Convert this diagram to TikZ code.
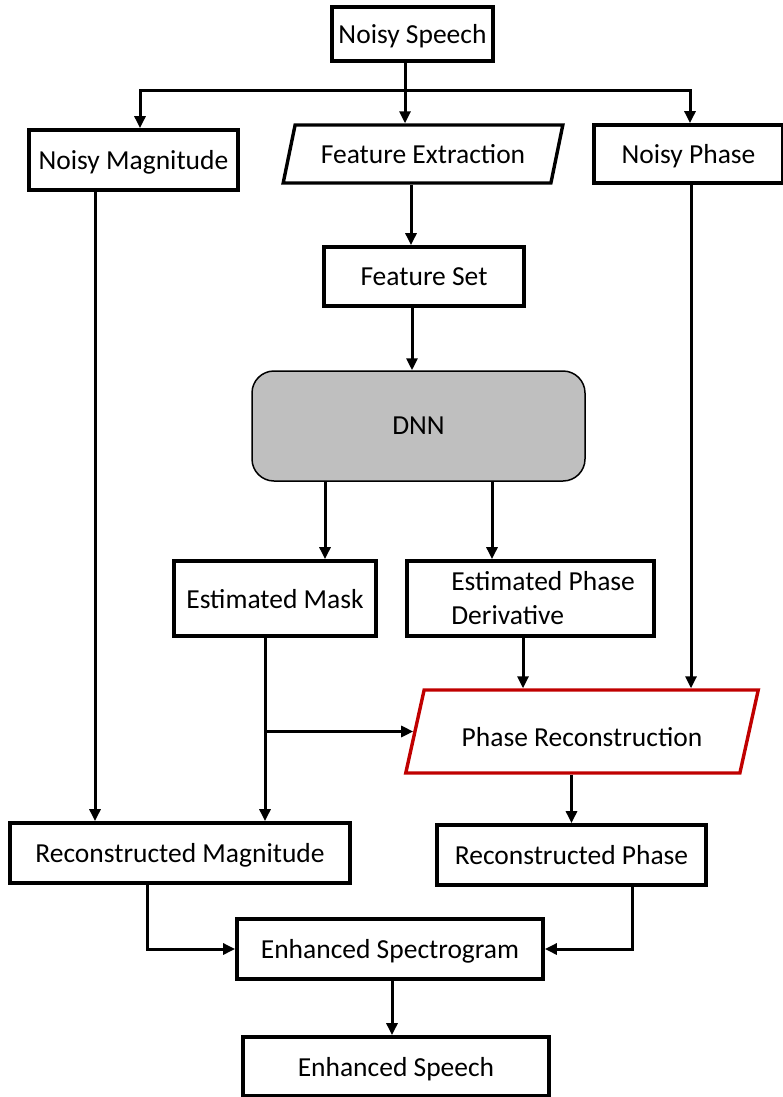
\documentclass[tikz,border=0pt]{standalone}
\usepackage{fontspec}
\setmainfont{Carlito}
\usetikzlibrary{arrows.meta,shapes.geometric}
\definecolor{dnngray}{RGB}{191,191,191}
\definecolor{prred}{RGB}{192,0,0}
\begin{document}
\begin{tikzpicture}[x=1pt,y=-1pt,
  every node/.style={font=\fontsize{27.5}{34}\selectfont},
  box/.style={draw, line width=3.8pt, rectangle, inner sep=0pt, align=center, text depth=0pt},
  para/.style={draw, line width=3.4pt, trapezium, trapezium stretches=true, inner sep=0pt, text depth=0pt},
  wire/.style={line width=3pt},
  arr/.style={line width=3pt, -{Triangle[length=12pt,width=11pt]}}]
\useasboundingbox (0,0) rectangle (783,1097);

% processing blocks
\node[box, minimum width=161, minimum height=54] (ns) at (412.5,34) {Noisy Speech};
\node[box, minimum width=209, minimum height=60] (nm) at (133.5,160) {Noisy Magnitude};
\node[para, minimum width=280, minimum height=58,
      trapezium left angle=63.4, trapezium right angle=116.6] (fe) at (423,154) {Feature Extraction};
\node[box, minimum width=189, minimum height=58] (np) at (688.5,154) {Noisy Phase};
\node[box, minimum width=200, minimum height=59] (fs) at (424,276.5) {Feature Set};
\node[draw, line width=1.5pt, fill=dnngray, rounded corners=22pt, inner sep=0pt, text depth=0pt,
      minimum width=333, minimum height=110] (dnn) at (418.5,426) {DNN};
\node[box, minimum width=202, minimum height=75] (em) at (275,598.5) {Estimated Mask};
\node[box, minimum width=247, minimum height=75] (epd) at (530.5,598.5) {};
\node[align=left, anchor=west, inner sep=0pt] (epdtext) at ([xshift=46pt]epd.west) {Estimated Phase\\Derivative};
\node[para, draw=prred, minimum width=354, minimum height=83, text height=30pt,
      trapezium left angle=65, trapezium right angle=115] (pr) at (582,731.5) {Phase Reconstruction};
\node[box, minimum width=340, minimum height=60] (rm) at (180,853) {Reconstructed Magnitude};
\node[box, minimum width=269, minimum height=60] (rp) at (571.5,855) {Reconstructed Phase};
\node[box, minimum width=306, minimum height=60] (es) at (390,949) {Enhanced Spectrogram};
\node[box, minimum width=306, minimum height=59] (esp) at (396,1066.5) {Enhanced Speech};

% split of the noisy input into three branches
\coordinate (split) at (405,91);
\draw[wire] ([xshift=-7.5pt]ns.south) -- (split);
\draw[arr] (split) -| ([xshift=6.5pt]nm.north);
\draw[arr] (split) -- (split |- fe.north);
\draw[arr] (split) -| ([xshift=1.5pt]np.north);

% feature path through the network
\draw[arr] ([xshift=-13pt]fs.north |- fe.south) -- ([xshift=-13pt]fs.north);
\draw[arr] ([xshift=-12pt]fs.south) -- ([xshift=-12pt]fs.south |- dnn.north);
\draw[arr] ([xshift=50pt]em.north |- dnn.south) -- ([xshift=50pt]em.north);
\draw[arr] ([xshift=-38.5pt]epd.north |- dnn.south) -- ([xshift=-38.5pt]epd.north);

% magnitude and phase reconstruction
\draw[arr] ([xshift=-38.5pt]nm.south) -- ([xshift=-38.5pt]nm.south |- rm.north);
\draw[arr] ([xshift=2.5pt]np.south) -- ([xshift=2.5pt]np.south |- pr.north);
\draw[arr] ([xshift=-7.5pt]epd.south) -- ([xshift=-7.5pt]epd.south |- pr.north);
\draw[arr] ([xshift=-10pt]em.south) -- ([xshift=-10pt]em.south |- rm.north);
\draw[arr] ([xshift=-10pt]em.south |- pr.west) -- (pr.west);
\draw[arr] (rp.north |- pr.south) -- (rp.north);

% combination and synthesis
\draw[arr] ([xshift=-33pt]rm.south) |- (es.west);
\draw[arr] ([xshift=60.5pt]rp.south) |- (es.east);
\draw[arr] ([xshift=2pt]es.south) -- ([xshift=2pt]es.south |- esp.north);
\end{tikzpicture}
\end{document}
